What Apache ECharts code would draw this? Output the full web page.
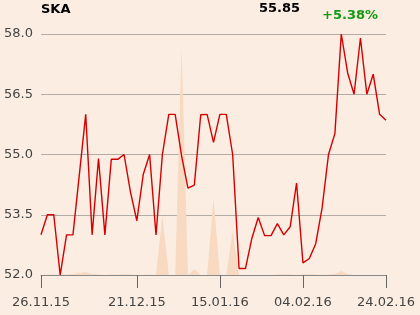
<!DOCTYPE html>
<html>
<head>
<meta charset="utf-8">
<script src="https://cdn.jsdelivr.net/npm/echarts@6/dist/echarts.min.js"></script>
<style>
html,body{margin:0;padding:0;background:#fbede1;}
#c{width:420px;height:315px;}
</style>
</head>
<body>
<div id="c"></div>
<script>
// ---- data ----
var prices = [
  53.0, 53.5, 53.5, 52.0, 53.0, 53.0, 54.5, 56.0, 53.0, 54.9,
  53.0, 54.88, 54.88, 55.0, 54.07, 53.35, 54.5, 55.0, 53.0, 55.0,
  56.0, 56.0, 54.97, 54.16, 54.24, 55.99, 56.0, 55.3, 56.0, 56.0,
  55.0, 52.16, 52.16, 52.91, 53.43, 52.98, 52.98, 53.28, 53.0, 53.2,
  54.29, 52.3, 52.41, 52.78, 53.67, 55.0, 55.52, 58.0, 57.03, 56.5,
  57.9, 56.5, 57.0, 56.0, 55.85
];
var volumes = [
  0, 0.5, 0.5, 0, 0.5, 1, 2, 3, 1, 0.5,
  0, 0.5, 0.5, 1, 0.5, 0, 0, 0.5, 0, 60,
  0, 0, 227, 0, 6, 0, 0, 77, 0, 0,
  44, 0, 0, 0, 0, 0, 0, 0.5, 1, 0.5,
  0, 0.5, 1, 0.5, 0, 0.5, 1, 4, 1, 0,
  0, 0, 0, 0, 0
];
var tickIndex = [0, 15, 28, 41, 54];
var tickLabels = ['26.11.15', '21.12.15', '15.01.16', '04.02.16', '24.02.16'];
var yTicks = [52.0, 53.5, 55.0, 56.5, 58.0];
var titleText = 'SKA';
var lastText = '55.85';
var changeText = '+5.38%';

var categories = prices.map(function (v, i) {
  var k = tickIndex.indexOf(i);
  return k >= 0 ? tickLabels[k] : String(i);
});

var chart = echarts.init(document.getElementById('c'), null, {renderer: 'canvas'});
chart.setOption({
  backgroundColor: '#fbede1',
  animation: false,
  grid: {left: 41, right: 34, top: 34, bottom: 40, containLabel: false},
  graphic: [
    {type: 'text', left: 41, top: 3, style: {text: titleText, font: 'bold 13px "DejaVu Sans"', fill: '#000'}},
    {type: 'text', left: 259, top: 2, style: {text: lastText, font: 'bold 13px "DejaVu Sans"', fill: '#000'}},
    {type: 'text', left: 322, top: 9, style: {text: changeText, font: 'bold 13px "DejaVu Sans"', fill: '#139a13'}}
  ],
  xAxis: {
    type: 'category',
    data: categories,
    boundaryGap: false,
    axisLine: {show: true, lineStyle: {color: '#8a8a8a', width: 1}},
    axisTick: {
      show: true, length: 13, lineStyle: {color: '#666', width: 1},
      interval: function (i) { return tickIndex.indexOf(i) >= 0; }
    },
    axisLabel: {
      show: true, margin: 21, color: '#444', fontSize: 13, fontFamily: 'DejaVu Sans',
      interval: function (i) { return tickIndex.indexOf(i) >= 0; }
    },
    splitLine: {show: false}
  },
  yAxis: [
    {
      type: 'value', min: 52, max: 58, position: 'left',
      axisLine: {show: false},
      axisTick: {show: false, customValues: yTicks},
      axisLabel: {
        customValues: yTicks, margin: 8, color: '#444', fontSize: 13, fontFamily: 'DejaVu Sans',
        formatter: function (v) { return v.toFixed(1); }
      },
      splitLine: {show: true, lineStyle: {color: '#b2aca6', width: 1}}
    },
    {
      type: 'value', min: 0, max: 241, show: false, splitLine: {show: false}
    }
  ],
  series: [
    {
      type: 'line', yAxisIndex: 1, data: volumes, symbol: 'none', silent: true,
      lineStyle: {width: 0, opacity: 0},
      areaStyle: {color: '#f8d9c1', opacity: 1},
      z: 1
    },
    {
      type: 'line', yAxisIndex: 0, data: prices, symbol: 'none',
      lineStyle: {color: '#d40000', width: 1.4},
      z: 3
    }
  ]
});
</script>
</body>
</html>
